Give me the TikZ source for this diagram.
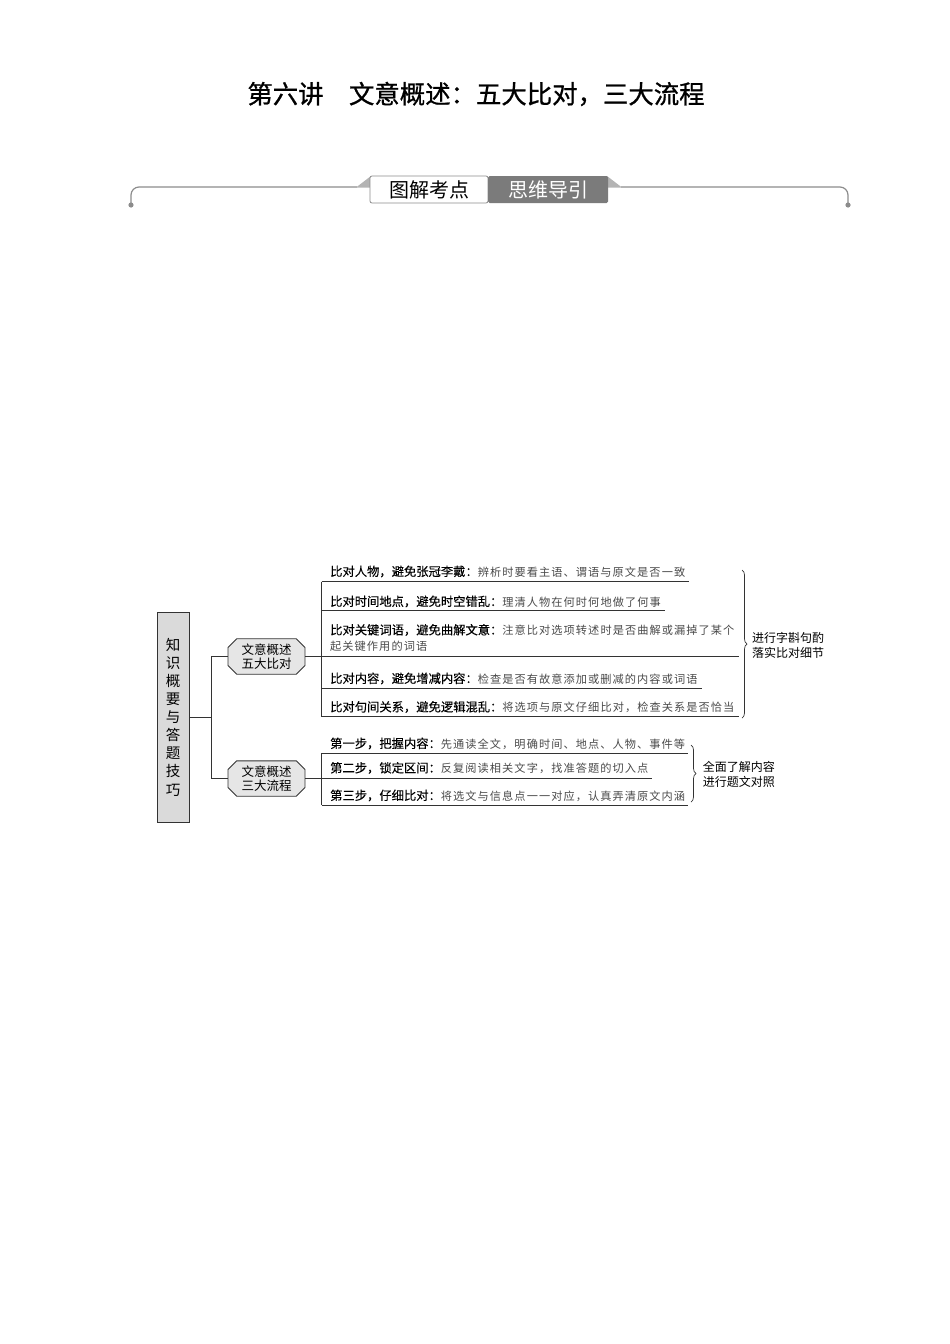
\documentclass[tikz,border=0pt]{standalone}
\usepackage{fontspec}
\setmainfont{Noto Sans CJK SC}
\newfontfamily\cjkhd[FakeBold=0.2]{Noto Sans CJK SC}
\newfontfamily\cjkds[LetterSpace=9.5]{Noto Sans CJK SC}
\newfontfamily\cjkti[FakeBold=0.9]{Noto Sans CJK SC}
\usetikzlibrary{shapes.misc,decorations.pathreplacing}
\definecolor{linec}{HTML}{333333}
\definecolor{descc}{HTML}{4A4A4A}
\definecolor{rootfill}{HTML}{DADADA}
\definecolor{boxfill}{HTML}{E6E6E6}
\definecolor{banline}{HTML}{8C8C8C}
\definecolor{flapc}{HTML}{B4B4B4}
\definecolor{darkband}{HTML}{7B7B7B}
\newcommand{\hd}[1]{{\cjkhd\fontsize{12.3}{14}\selectfont #1}}
\newcommand{\ds}[1]{{\color{descc}\cjkds\fontsize{11.2}{13}\selectfont #1}}
\begin{document}
\begin{tikzpicture}[x=1pt,y=-1pt,
  row/.style={anchor=west,inner sep=0pt,text height=10.5pt,text depth=1.5pt,font=\fontsize{12}{14}\selectfont},
  note/.style={anchor=west,inner sep=0pt,align=left,font=\fontsize{12}{15}\selectfont},
  branch/.style={shape=chamfered rectangle,chamfered rectangle xsep=5pt,draw=linec,fill=boxfill,line width=0.8pt,
     minimum width=77pt,minimum height=34pt,inner sep=1pt,align=center,font=\fontsize{12.5}{14.5}\selectfont},
  conn/.style={draw=linec,line width=0.8pt},
  bracec/.style={draw=linec,line width=0.7pt,decorate,decoration={brace,amplitude=5pt}},
]
\useasboundingbox (0,0) rectangle (950,1344);

% title
\node[inner sep=0pt,font=\cjkti\fontsize{25.4}{30}\selectfont] (title) at (476,94) {第六讲　文意概述：五大比对，三大流程};

% banner
\draw[banline,line width=1.2pt,rounded corners=8pt] (357,187) -- (131,187) -- (131,205);
\draw[banline,line width=1.2pt,rounded corners=8pt] (621,187) -- (848,187) -- (848,205);
\fill[banline] (131,205) circle (2.6);
\fill[banline] (848,205) circle (2.6);
\fill[flapc] (356,187.5) -- (371,176) -- (371,187.5) -- cycle;
\fill[flapc] (607,176) -- (622,187.5) -- (607,187.5) -- cycle;
\node[draw=banline,fill=white,rounded corners=2pt,line width=0.8pt,minimum width=118pt,minimum height=27pt,inner sep=0pt,
  font=\fontsize{20}{22}\selectfont] (k1) at (429,189.5) {图解考点};
\node[fill=darkband,text=white,rounded corners=1.5pt,minimum width=120pt,minimum height=27pt,inner sep=0pt,
  font=\fontsize{20}{22}\selectfont] (k2) at (548,189.5) {思维导引};

% root
\node[draw=linec,fill=rootfill,line width=0.8pt,minimum width=32pt,minimum height=210pt,inner sep=0pt,align=center,
  font=\fontsize{14.5}{18.1}\selectfont] (root) at (173,717) {知\\识\\概\\要\\与\\答\\题\\技\\巧};

\node[branch] (b1) at (266.5,656.5) {文意概述\\五大比对};
\node[branch] (b2) at (266.5,778.5) {文意概述\\三大流程};

\coordinate (j) at (211.7,717);
\draw[conn] (root.east) -- (j);
\draw[conn] (b1.west) -| (j) |- (b2.west);

% five comparisons
\node[row] (r1) at (330,571.5) {\hd{比对人物，避免张冠李戴：}\ds{辨析时要看主语、谓语与原文是否一致}};
\node[row] (r2) at (330,601.5) {\hd{比对时间地点，避免时空错乱：}\ds{理清人物在何时何地做了何事}};
\node[row] (r3) at (330,630) {\hd{比对关键词语，避免曲解文意：}\ds{注意比对选项转述时是否曲解或漏掉了某个}};
\node[row] (r3b) at (330,646) {\ds{起关键作用的词语}};
\node[row] (r4) at (330,678.5) {\hd{比对内容，避免增减内容：}\ds{检查是否有故意添加或删减的内容或词语}};
\node[row] (r5) at (330,707) {\hd{比对句间关系，避免逻辑混乱：}\ds{将选项与原文仔细比对，检查关系是否恰当}};

\coordinate (s1t) at (321.7,581.7);
\coordinate (s1b) at (321.7,716.7);
\draw[conn] (s1t) -- (s1b);
\draw[conn] (s1t) -- (689,581.7);
\draw[conn] (321.7,610.7) -- (665,610.7);
\draw[conn] (b1.east) -- (739,656.5);
\draw[conn] (321.7,688.3) -- (701.7,688.3);
\draw[conn] (s1b) -- (739,716.7);

\draw[bracec] (742,570) -- (742,718);
\node[note] (n1) at (752,645.5) {进行字斟句酌\\落实比对细节};

% three steps
\node[row] (t1) at (330,743.5) {\hd{第一步，把握内容：}\ds{先通读全文，明确时间、地点、人物、事件等}};
\node[row] (t2) at (330,768) {\hd{第二步，锁定区间：}\ds{反复阅读相关文字，找准答题的切入点}};
\node[row] (t3) at (330,795.5) {\hd{第三步，仔细比对：}\ds{将选文与信息点一一对应，认真弄清原文内涵}};

\coordinate (s2t) at (321.7,753.3);
\coordinate (s2b) at (321.7,805);
\draw[conn] (s2t) -- (s2b);
\draw[conn] (s2t) -- (688,753.3);
\draw[conn] (b2.east) -- (652,778.5);
\draw[conn] (s2b) -- (688,805);

\draw[bracec] (691,745) -- (691,802);
\node[note] (n2) at (702.7,774.5) {全面了解内容\\进行题文对照};
\end{tikzpicture}
\end{document}
